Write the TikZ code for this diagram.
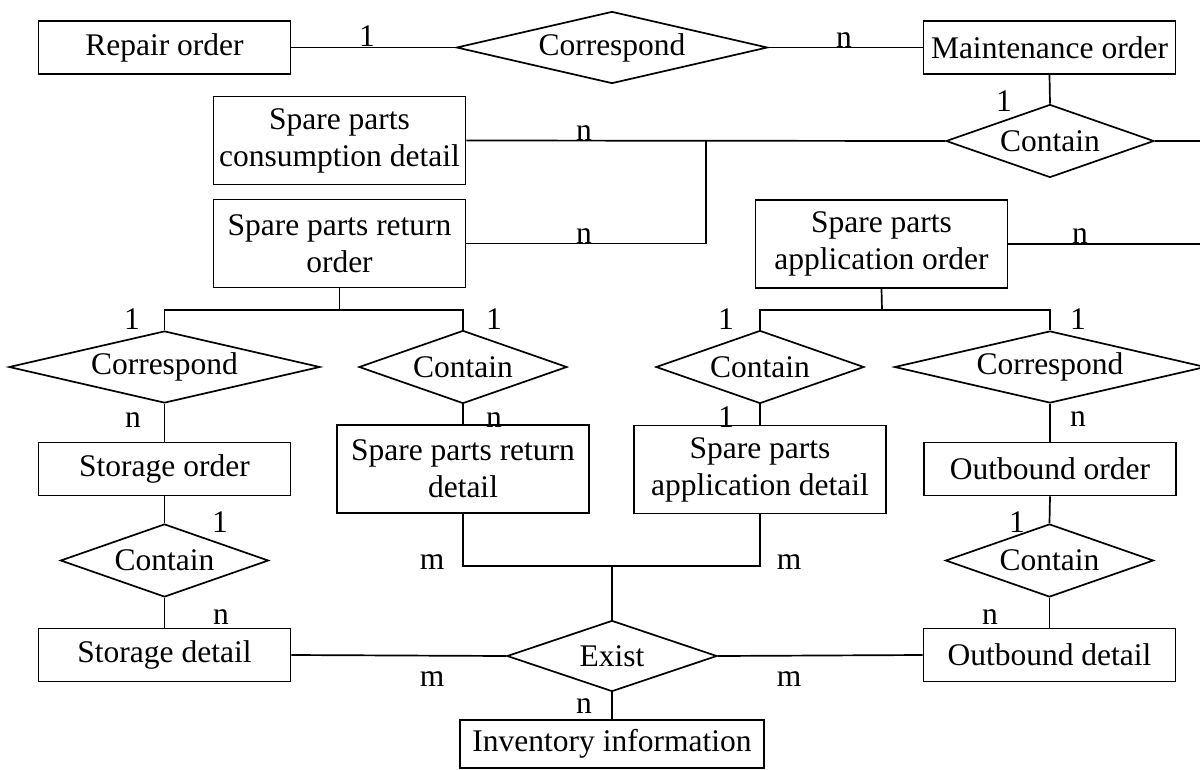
\documentclass[tikz,border=0pt]{standalone}
\usepackage{fontspec}
\setmainfont{Liberation Serif}
\usetikzlibrary{shapes.geometric}

\begin{document}
\begin{tikzpicture}[x=1pt, y=-1pt, line width=1.7pt,
    entity/.style={draw, minimum width=252pt, minimum height=53pt, inner sep=2pt, align=center, font=\fontsize{31.5}{37}\selectfont},
    entitytwo/.style={entity, minimum height=88pt},
    rel/.style={draw, diamond, aspect=4, inner sep=0pt, font=\fontsize{31.5}{37}\selectfont},
    corr/.style={rel, minimum width=311pt, minimum height=72pt},
    contain/.style={rel, minimum width=208pt, minimum height=73pt},
    card/.style={inner sep=0pt, font=\fontsize{31.5}{37}\selectfont}]
    \clip (0,0) rectangle (1200,769);

    \node [entity] (repair) at (164.5,47.5) {Repair order};
    \node [corr] (corrtop) at (612,47.5) {Correspond};
    \node [entity] (maint) at (1049.5,47.5) {Maintenance order};
    \node [contain] (conttop) at (1050,141) {Contain};
    \node [entitytwo] (consume) at (339.5,140.5) {Spare parts\\consumption detail};
    \node [entitytwo] (retorder) at (339.5,243.5) {Spare parts return\\order};
    \node [entitytwo] (apporder) at (881.5,244) {Spare parts\\application order};

    \node [corr] (corrl) at (164.5,367) {Correspond};
    \node [contain] (contl) at (463,367) {Contain};
    \node [contain] (contr) at (760,367) {Contain};
    \node [corr] (corrr) at (1050,367) {Correspond};

    \node [entity] (storord) at (164.5,469) {Storage order};
    \node [entitytwo] (retdet) at (463,469) {Spare parts return\\detail};
    \node [entitytwo] (appdet) at (760,469.5) {Spare parts\\application detail};
    \node [entity] (outord) at (1050,469) {Outbound order};

    \node [contain] (contll) at (164.5,560.5) {Contain};
    \node [contain] (contlr) at (1049.5,560.5) {Contain};
    \node [entity] (stordet) at (164.5,655) {Storage detail};
    \node [entity] (outdet) at (1049.5,655) {Outbound detail};
    \node [rel, minimum width=210pt, minimum height=71pt] (exist) at (612,656) {Exist};
    \node [entity, minimum width=304pt, minimum height=48pt] (inv) at (612,744) {Inventory information};

    \coordinate (jn) at (706,141);
    \coordinate (edgea) at (1200,141);
    \coordinate (edgeb) at (1200,244);
    \coordinate (forkl) at (339.5,310);
    \coordinate (forkr) at (882,310);
    \coordinate (joinm) at (612,566);

    \draw (repair) -- (corrtop) -- (maint);
    \draw (maint.south) -- (conttop.north);
    \draw (consume.east) -- (conttop.west);
    \draw (retorder.east) -| (jn);
    \draw (conttop.east) -- (edgea);
    \draw (apporder.east) -- (edgeb);
    \draw (retorder.south) -- (forkl);
    \draw (corrl.north) |- (forkl) -| (contl.north);
    \draw (apporder.south) -- (forkr);
    \draw (contr.north) |- (forkr) -| (corrr.north);
    \draw (corrl.south) -- (storord.north);
    \draw (contl.south) -- (retdet.north);
    \draw (contr.south) -- (appdet.north);
    \draw (corrr.south) -- (outord.north);
    \draw (storord.south) -- (contll.north);
    \draw (contll.south) -- (stordet.north);
    \draw (outord.south) -- (contlr.north);
    \draw (contlr.south) -- (outdet.north);
    \draw (retdet.south) |- (joinm) -| (appdet.south);
    \draw (joinm) -- (exist.north);
    \draw (stordet.east) -- (exist.west);
    \draw (exist.east) -- (outdet.west);
    \draw (exist.south) -- (inv.north);

    \node [card] (k1) at (367,36) {1};
    \node [card] (k2) at (844,40) {n};
    \node [card] (k3) at (1004,101) {1};
    \node [card] (k4) at (584,133) {n};
    \node [card] (k5) at (584,236) {n};
    \node [card] (k6) at (1080,236) {n};
    \node [card] (k7) at (132,319) {1};
    \node [card] (k8) at (494,319) {1};
    \node [card] (k9) at (726,319) {1};
    \node [card] (k10) at (1078,319) {1};
    \node [card] (k11) at (133,420) {n};
    \node [card] (k12) at (494,420) {n};
    \node [card] (k13) at (726,417) {1};
    \node [card] (k14) at (1078,419) {n};
    \node [card] (k15) at (220,522) {1};
    \node [card] (k16) at (1017,522) {1};
    \node [card] (k17) at (221,617) {n};
    \node [card] (k18) at (990,617) {n};
    \node [card] (k19) at (432,562) {m};
    \node [card] (k20) at (789,562) {m};
    \node [card] (k21) at (432,679) {m};
    \node [card] (k22) at (789,679) {m};
    \node [card] (k23) at (584,706) {n};
\end{tikzpicture}
\end{document}
